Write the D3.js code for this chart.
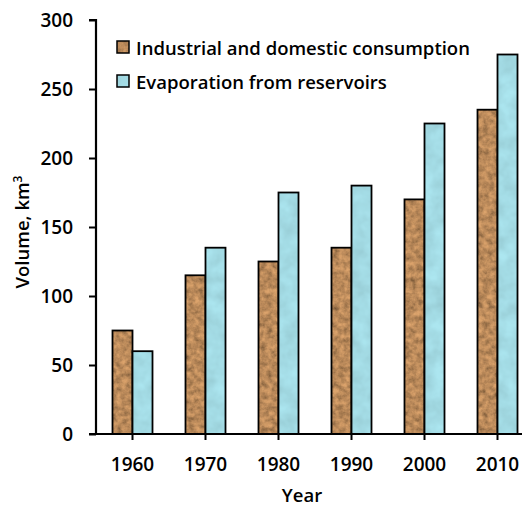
<!DOCTYPE html>
<html>
<head>
<meta charset="utf-8">
<script src="https://cdn.jsdelivr.net/npm/d3@7"></script>
<style>
  body { margin: 0; background: #fff; }
  text { font-family: "Open Sans", sans-serif; font-weight: 600; fill: #000; }
</style>
</head>
<body>
<svg id="chart" width="522" height="506"></svg>
<script>
// data
const years = ['1960', '1970', '1980', '1990', '2000', '2010']
const industrial = [75, 115, 125, 135, 170, 235]
const evaporation = [60, 135, 175, 180, 225, 275]
const seriesNames = ['Industrial and domestic consumption', 'Evaporation from reservoirs']
const yTicks = [0, 50, 100, 150, 200, 250, 300]

const svg = d3.select('#chart')
const plotLeft = 96, plotRight = 534, plotTop = 20, plotBottom = 434

const x = d3.scaleBand().domain(years).range([plotLeft, plotRight]).paddingInner(0).paddingOuter(0)
const y = d3.scaleLinear().domain([0, 300]).range([plotBottom, plotTop])

// textured fills
const defs = svg.append('defs')
function texture(id, base, freq, slope, intercept) {
  const f = defs.append('filter').attr('id', id).attr('x', 0).attr('y', 0).attr('width', 1).attr('height', 1)
  f.append('feFlood').attr('flood-color', base).attr('result', 'base')
  f.append('feTurbulence').attr('type', 'fractalNoise').attr('baseFrequency', freq)
    .attr('numOctaves', 3).attr('seed', 4).attr('result', 'noise')
  f.append('feColorMatrix').attr('in', 'noise').attr('type', 'luminanceToAlpha').attr('result', 'la')
  const ct = f.append('feComponentTransfer').attr('in', 'la').attr('result', 'shade')
  ct.append('feFuncA').attr('type', 'linear').attr('slope', slope).attr('intercept', intercept)
  f.append('feComposite').attr('in', 'shade').attr('in2', 'SourceGraphic').attr('operator', 'in').attr('result', 'dark')
  f.append('feComposite').attr('in', 'base').attr('in2', 'SourceGraphic').attr('operator', 'in').attr('result', 'fill')
  const m = f.append('feMerge')
  m.append('feMergeNode').attr('in', 'fill')
  m.append('feMergeNode').attr('in', 'dark')
}
texture('brown', '#dba36c', 0.18, 1.3, -0.35)
texture('aqua', '#ace6f0', 0.06, 0.45, -0.12)

const series = [
  { name: seriesNames[0], values: industrial, filter: 'brown' },
  { name: seriesNames[1], values: evaporation, filter: 'aqua' }
]

const barW = 20
series.forEach((s, si) => {
  const g = svg.append('g')
  const bx = (d, i) => x(years[i]) + x.bandwidth() / 2 - barW + si * barW
  g.selectAll('rect.tex')
    .data(s.values)
    .enter()
    .append('rect')
    .attr('x', bx)
    .attr('y', d => y(d))
    .attr('width', barW)
    .attr('height', d => y(0) - y(d))
    .attr('fill', '#404040')
    .attr('filter', `url(#${s.filter})`)
  g.selectAll('rect.edge')
    .data(s.values)
    .enter()
    .append('rect')
    .attr('x', bx)
    .attr('y', d => y(d))
    .attr('width', barW)
    .attr('height', d => y(0) - y(d))
    .attr('fill', 'none')
    .attr('stroke', '#000')
    .attr('stroke-width', 1.8)
})

// axes
const yAxis = svg.append('g')
  .attr('transform', `translate(${plotLeft},0)`)
  .call(d3.axisLeft(y).tickValues(yTicks).tickSize(7).tickPadding(16))
const xAxis = svg.append('g')
  .attr('transform', `translate(0,${plotBottom})`)
  .call(d3.axisBottom(x).tickSize(6).tickPadding(18))

;[yAxis, xAxis].forEach(a => {
  a.select('.domain').attr('stroke', '#000').attr('stroke-width', 2.2)
  a.selectAll('.tick line').attr('stroke', '#000').attr('stroke-width', 2)
  a.selectAll('.tick text').attr('font-size', 19).attr('font-family', '"Open Sans", sans-serif').attr('font-weight', 600)
})
yAxis.select('.domain').attr('d', `M-7,${plotTop}H0V${plotBottom}`)
xAxis.select('.domain').attr('d', `M${plotLeft - 7},0H${plotRight}`)

// axis titles
svg.append('text')
  .attr('x', 302).attr('y', 502)
  .attr('text-anchor', 'middle')
  .attr('font-size', 18.5)
  .text('Year')

const yl = svg.append('text')
  .attr('transform', 'translate(29,232) rotate(-90)')
  .attr('text-anchor', 'middle')
  .attr('font-size', 18.5)
yl.append('tspan').text('Volume, km')
yl.append('tspan').attr('font-size', 12).attr('dy', -7).text('3')

// legend
const legend = svg.append('g').attr('transform', 'translate(117,41)')
series.forEach((s, i) => {
  const row = legend.append('g').attr('transform', `translate(0,${i * 34})`)
  row.append('rect').attr('width', 12).attr('height', 12)
    .attr('fill', '#404040').attr('filter', `url(#${s.filter})`)
  row.append('rect').attr('width', 12).attr('height', 12)
    .attr('fill', 'none').attr('stroke', '#000').attr('stroke-width', 1.5)
  row.append('text').attr('x', 19).attr('y', 14).attr('font-size', 18.5).text(s.name)
})
</script>
</body>
</html>
